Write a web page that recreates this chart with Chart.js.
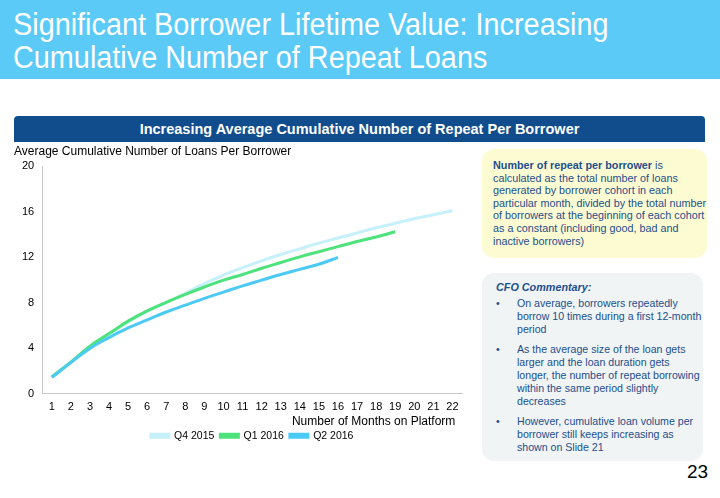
<!DOCTYPE html>
<html lang="en">
<head>
<meta charset="UTF-8">
<title>Repeat Loans</title>
<script src="https://cdn.jsdelivr.net/npm/chart.js"></script>
<style>
  body { margin: 0; width: 720px; height: 498px; background: #fff; font-family: "Liberation Sans", Arial, sans-serif; position: relative; overflow: hidden; }
  .band { position: absolute; left: 0; top: 0; width: 720px; height: 79px; background: #5bcaf7; }
  .band h1 { margin: 0; position: absolute; left: 13px; top: 8px; color: #fff; font-weight: normal; font-size: 31px; line-height: 33px; white-space: nowrap; transform: scaleX(0.93); transform-origin: left top; }
  .bar { position: absolute; left: 14px; top: 116px; width: 691px; height: 26px; background: #114d8c; border-radius: 4px 4px 0 0; color: #fff; font-weight: bold; font-size: 14.5px; text-align: center; line-height: 26px; }
  .chart-box { position: absolute; left: 0; top: 143px; width: 470px; height: 308px; }
  .note { position: absolute; left: 482px; border-radius: 12px; color: #1c4f8e; font-size: 10.8px; white-space: nowrap; }
  .yellow { top: 149px; width: 214px; height: 99px; background: #fdfbd2; padding: 10px 0 0 11px; line-height: 12.6px; }
  .grey { top: 273px; width: 207px; height: 180px; background: #f1f4f5; padding: 8px 0 0 14px; line-height: 13px; font-size: 10.6px; }
  .grey h4 { margin: 0 0 3px 0; font-size: 10.8px; font-style: italic; }
  .grey ul { margin: 0; padding: 0; list-style: none; }
  .grey li { position: relative; padding-left: 21px; margin-bottom: 7px; }
  .grey li:before { content: "•"; position: absolute; left: 0; }
  .page { position: absolute; left: 687px; top: 461px; font-size: 19px; color: #000; }
</style>
</head>
<body>
<div class="band"><h1>Significant Borrower Lifetime Value: Increasing<br>Cumulative Number of Repeat Loans</h1></div>
<div class="bar">Increasing Average Cumulative Number of Repeat Per Borrower</div>
<div class="chart-box"><canvas id="loansChart"></canvas></div>
<div class="note yellow"><b>Number of repeat per borrower</b> is<br>calculated as the total number of loans<br>generated by borrower cohort in each<br>particular month, divided by the total number<br>of borrowers at the beginning of each cohort<br>as a constant (including good, bad and<br>inactive borrowers)</div>
<div class="note grey">
  <h4>CFO Commentary:</h4>
  <ul>
    <li>On average, borrowers repeatedly<br>borrow 10 times during a first 12-month<br>period</li>
    <li>As the average size of the loan gets<br>larger and the loan duration gets<br>longer, the number of repeat borrowing<br>within the same period slightly<br>decreases</li>
    <li>However, cumulative loan volume per<br>borrower still keeps increasing as<br>shown on Slide 21</li>
  </ul>
</div>
<div class="page">23</div>
<script>
  // months on platform
  const months = ["1","2","3","4","5","6","7","8","9","10","11","12","13","14","15","16","17","18","19","20","21","22"];
  // cumulative loans per borrower
  const q4_2015 = [1.5, 2.8, 4.15, 5.25, 6.3, 7.25, 8.05, 8.85, 9.7, 10.45, 11.1, 11.7, 12.25, 12.75, 13.25, 13.7, 14.15, 14.6, 15.0, 15.4, 15.75, 16.1];
  const q1_2016 = [1.5, 2.8, 4.2, 5.3, 6.4, 7.3, 8.05, 8.75, 9.4, 10.0, 10.5, 11.05, 11.55, 12.05, 12.5, 12.95, 13.4, 13.8, 14.25];
  const q2_2016 = [1.45, 2.75, 4.0, 4.95, 5.8, 6.5, 7.2, 7.8, 8.4, 8.95, 9.5, 10.0, 10.5, 10.95, 11.4, 12.0];
  const yTicks = [0, 4, 8, 12, 16, 20];

  function series(label, data, color, order) {
    return {
      label: label,
      data: data,
      borderColor: color,
      backgroundColor: color,
      borderWidth: 3,
      pointRadius: 0,
      tension: 0.4,
      fill: false,
      order: order
    };
  }

  new Chart(document.getElementById("loansChart"), {
    type: "line",
    data: {
      labels: months,
      datasets: [
        series("Q4 2015", q4_2015, "#c6f0fa", 3),
        series("Q1 2016", q1_2016, "#4ee27c", 2),
        series("Q2 2016", q2_2016, "#4ccaf6", 1)
      ]
    },
    options: {
      responsive: true,
      maintainAspectRatio: false,
      animation: false,
      layout: { padding: { left: 14, right: 8, top: 0, bottom: 0 } },
      plugins: {
        title: {
          display: true,
          text: "Average Cumulative Number of Loans Per Borrower",
          align: "start",
          color: "#000",
          font: { family: "Liberation Sans", size: 12, weight: "normal" },
          padding: { top: 1, bottom: 8 }
        },
        legend: {
          position: "bottom",
          fullSize: false,
          labels: {
            boxWidth: 18,
            boxHeight: 3,
            padding: 6,
            color: "#000",
            font: { family: "Liberation Sans", size: 10.5 },
            sort: (a, b) => a.datasetIndex - b.datasetIndex
          }
        },
        tooltip: { enabled: false }
      },
      scales: {
        x: {
          offset: true,
          grid: { display: false, drawTicks: false },
          border: { color: "#c8c8c8" },
          ticks: { color: "#000", font: { family: "Liberation Sans", size: 11 }, padding: 6, maxRotation: 0, autoSkip: false },
          title: {
            display: true,
            text: "Number of Months on Platform  ",
            align: "end",
            color: "#000",
            font: { family: "Liberation Sans", size: 12 },
            padding: { top: -5, bottom: -4 }
          }
        },
        y: {
          min: 0,
          max: 20,
          afterBuildTicks: axis => { axis.ticks = yTicks.map(v => ({ value: v })); },
          grid: { display: false, drawTicks: false },
          border: { color: "#c8c8c8" },
          ticks: { color: "#000", font: { family: "Liberation Sans", size: 11 }, padding: 8 }
        }
      }
    }
  });
</script>
</body>
</html>
